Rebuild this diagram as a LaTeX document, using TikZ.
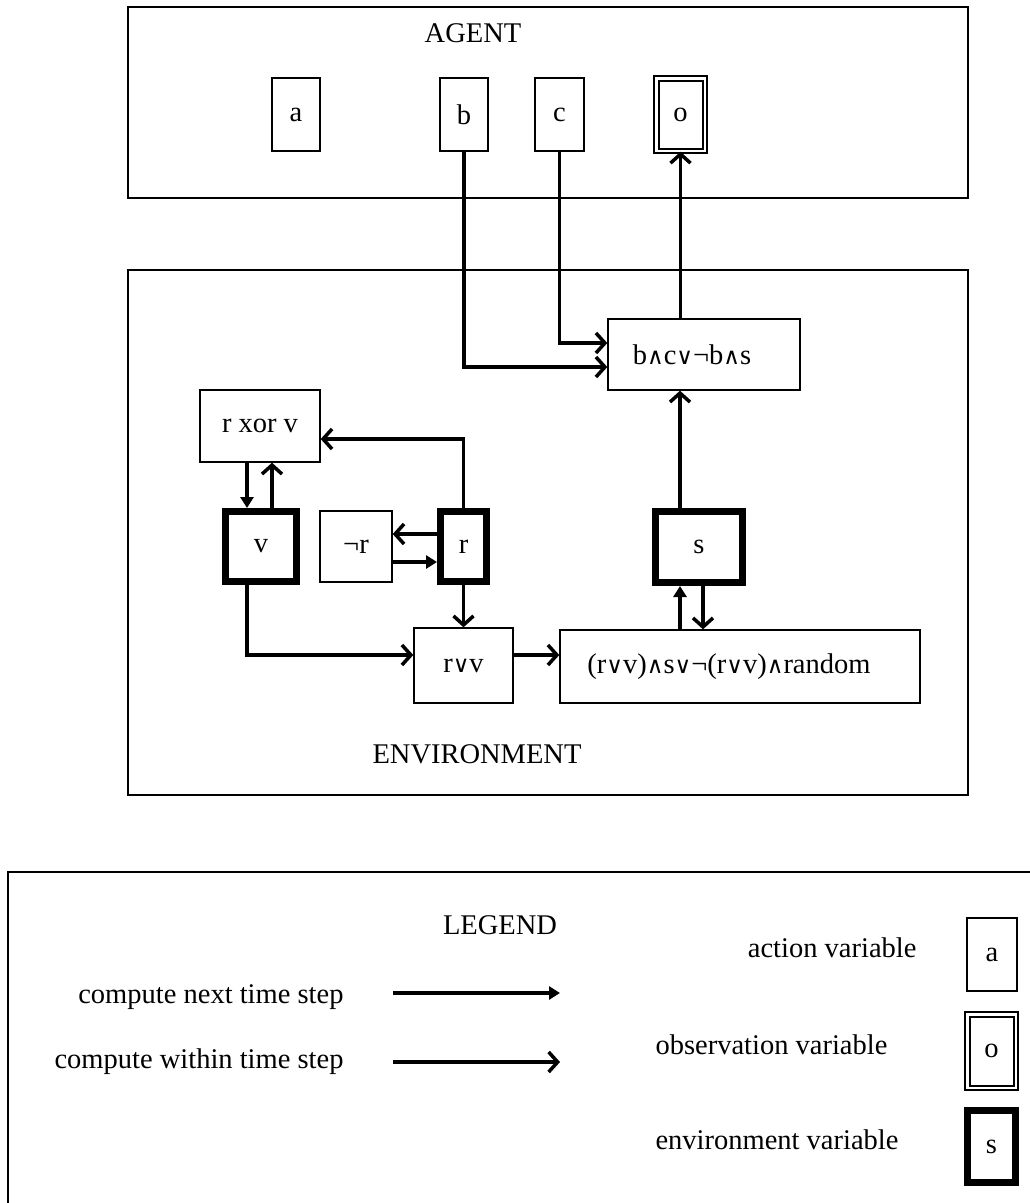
\documentclass[tikz,border=0pt]{standalone}
\usepackage{fontspec}
\setmainfont{Liberation Serif}
\newfontfamily\opfont{DejaVu Serif}[Scale=0.8]
\usetikzlibrary{arrows.meta,calc}
\newcommand{\opand}{{\opfont ∧}}
\newcommand{\opor}{{\opfont ∨}}
\begin{document}
\begin{tikzpicture}[x=1pt,y=-1pt,
  every node/.style={font=\fontsize{28.5}{34}\selectfont},
  box/.style={draw, line width=1.4, inner sep=0},
  envvar/.style={draw, line width=7, inner sep=0},
  obsvar/.style={draw, double, line width=2, double distance=2.5, inner sep=0},
  link/.style={line width=3.5},
  withinstep/.style={link, -{Straight Barb[length=9,width=20]}},
  nextstep/.style={link, -{Triangle[length=11,width=13]}},
  frame/.style={draw, line width=1.6, inner sep=0}]
\useasboundingbox (0,0) rectangle (1029,1203);
% frames
\node[frame, minimum width=840, minimum height=191] (agentbox) at (548,102.5) {};
\node[frame, minimum width=840, minimum height=525] (envbox) at (548,532.5) {};
\node[frame, minimum width=1040, minimum height=360, anchor=north west] (legbox) at (7,871) {};
\node (agentlbl) at (473,33) {AGENT};
\node (envlbl) at (477,754) {ENVIRONMENT};
% agent variables
\node[box, minimum width=48, minimum height=73] (a) at (296,114.5) {a};
\node[box, minimum width=48, minimum height=73] (b) at (464,114.5) {b};
\node[box, minimum width=49, minimum height=73] (c) at (559.5,114.5) {c};
\node[obsvar, minimum width=48.5, minimum height=72.5] (o) at (680.5,114.5) {o};
% environment
\node[box, minimum width=192, minimum height=71] (bcs) at (704,354.5) {b\opand c\opor¬b\opand s\hspace*{24pt}};
\node[box, minimum width=120, minimum height=72] (rxorv) at (260,426) {r xor v};
\node[envvar, minimum width=71, minimum height=70] (v) at (261,546.5) {v};
\node[box, minimum width=72, minimum height=71] (negr) at (356,546.5) {¬r};
\node[envvar, minimum width=46, minimum height=70] (r) at (463.5,546.5) {r};
\node[envvar, minimum width=87, minimum height=71] (s) at (699,547) {s};
\node[box, minimum width=99, minimum height=75] (rorv) at (463.5,665.5) {r\opor v};
\node[box, minimum width=360, minimum height=73] (big) at (740,666.5) {(r\opor v)\opand s\opor¬(r\opor v)\opand random\hspace*{22pt}};
% column coordinates
\coordinate (colx) at (680,0);
\coordinate (sdx) at (703,0);
\coordinate (vx1) at (247,0);
\coordinate (vx2) at (272,0);
\coordinate (ry1) at (0,534);
\coordinate (ry2) at (0,562);
% connectors
\draw[withinstep] (b.south) |- ([yshift=-12.5]bcs.west);
\draw[withinstep] (c.south) |- ([yshift=11.5]bcs.west);
\draw[withinstep] (bcs.north -| o.south) -- (o.south);
\draw[withinstep] (s.north -| colx) -- (bcs.south -| colx);
\draw[nextstep] (big.north -| colx) -- (s.south -| colx);
\draw[withinstep] (s.south -| sdx) -- (big.north -| sdx);
\draw[nextstep] (rxorv.south -| vx1) -- (v.north -| vx1);
\draw[withinstep] (v.north -| vx2) -- (rxorv.south -| vx2);
\draw[withinstep] (r.west |- ry1) -- (negr.east |- ry1);
\draw[nextstep] (negr.east |- ry2) -- (r.west |- ry2);
\draw[withinstep] (r.north) |- ([yshift=-13]rxorv.east);
\draw[withinstep] (r.south) -- (rorv.north);
\draw[withinstep] (v.south -| vx1) |- ([yshift=10.5]rorv.west);
\draw[withinstep] ([yshift=10.5]rorv.east) -- ([yshift=10.5]rorv.east -| big.west);
% legend
\node (leglbl) at (500,925) {LEGEND};
\node[anchor=east] (tnext) at (347,997) {compute next time step};
\node[anchor=east] (twithin) at (347,1062) {compute within time step};
\coordinate (l1s) at (393,993);
\coordinate (l1e) at (560,993);
\coordinate (l2s) at (393,1062);
\coordinate (l2e) at (560,1062);
\draw[nextstep] (l1s) -- (l1e);
\draw[withinstep] (l2s) -- (l2e);
\node[anchor=east] (tact) at (920,948) {action variable};
\node[anchor=west] (tobs) at (652,1045) {observation variable};
\node[anchor=west] (tenv) at (652,1140) {environment variable};
\node[box, minimum width=50, minimum height=73] (la) at (992,954.5) {a};
\node[obsvar, minimum width=48.5, minimum height=73.5] (lo) at (991.5,1051) {o};
\node[envvar, minimum width=48, minimum height=72] (ls) at (991.5,1146.5) {s};
\end{tikzpicture}
\end{document}
